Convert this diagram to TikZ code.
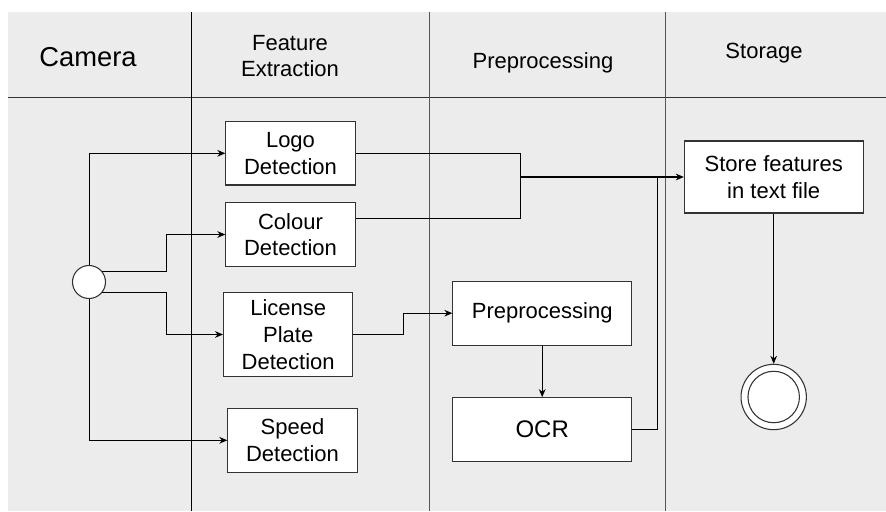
\documentclass[tikz,border=0pt]{standalone}
\usepackage{fontspec}
\setmainfont{Liberation Sans}
\usepackage{xcolor}
\usepackage{tikz}
\usetikzlibrary{calc}
\usetikzlibrary{arrows.meta}
\definecolor{lanegray}{HTML}{ECECEC}
\definecolor{edgegray}{HTML}{333333}
\definecolor{splitgray}{HTML}{555555}

\tikzset{
  taskbox/.style={draw=edgegray, fill=white, line width=0.8pt, align=center,
    inner sep=2pt, minimum width=97pt, minimum height=47.5pt,
    font=\fontsize{16.5}{20}\selectfont},
  lanehead/.style={align=center, font=\fontsize{16.5}{19.5}\selectfont},
  flow/.style={line width=0.75pt, -{Stealth[length=6pt,width=5pt]}},
  wire/.style={line width=0.75pt},
}

\begin{document}
\begin{tikzpicture}[x=0.75pt,y=-0.75pt]
                    \useasboundingbox (0,0) rectangle (886,511);

                    % Drawing swimlanes
                    \fill [lanegray] (8,12) rectangle (886,511);%
                    \draw [wire, edgegray] (8,97) -- (886,97);%
                    \draw [wire, black] (191,12) -- (191,511);%
                    \draw [wire, splitgray] (429,12) -- (429,511);%
                    \draw [wire, splitgray] (665,12) -- (665,511);%

                    \node [lanehead, font=\fontsize{20.5}{24}\selectfont] (hcamera) at (88,57) {Camera};%
                    \node [lanehead] (hfeature) at (290,56) {Feature\\Extraction};%
                    \node [lanehead] (hprep) at (543,63) {Preprocessing};%
                    \node [lanehead] (hstorage) at (764,53) {Storage};%

                    % Drawing activities
                    \node [circle, draw=edgegray, fill=white, line width=0.8pt, minimum size=24.75pt, inner sep=0pt] (start) at (89,282) {};%
                    \node [taskbox] (logo) at (290.5,153.3) {Logo\\Detection};%
                    \node [taskbox] (colour) at (290.5,234.5) {Colour\\Detection};%
                    \node [taskbox, minimum height=63pt] (plate) at (288.2,334.5) {License\\Plate\\Detection};%
                    \node [taskbox, minimum height=48pt] (speed) at (292.5,440.3) {Speed\\Detection};%
                    \node [taskbox, minimum width=134pt, minimum height=48pt] (prep) at (542.2,313.2) {Preprocessing};%
                    \node [taskbox, minimum width=134pt, minimum height=48pt, font=\fontsize{18}{20}\selectfont] (ocr) at (542.2,429.7) {OCR};%
                    \node [taskbox, minimum width=134pt, minimum height=54pt] (store) at (773.7,177) {Store features\\in text file};%
                    \node [circle, draw=edgegray, fill=white, line width=0.8pt, minimum size=49pt, inner sep=0pt] (stop) at (773.7,397) {};%
                    \draw [edgegray, line width=0.8pt] (stop) circle [radius=19.3pt];%

                    % Drawing connectors
                    \coordinate (merge) at (520,177);%
                    \coordinate (join) at (657,177);%
                    \draw [flow] (start.north) |- (logo.west);%
                    \draw [flow] (start.40) -- ++(64,0) |- (colour.west);%
                    \draw [flow] (start.-40) -- ++(64,0) |- (plate.west);%
                    \draw [flow] (start.south) |- (speed.west);%
                    \draw [wire] (logo.east) -| (merge);%
                    \draw [wire] ($(colour.east)+(0,-16)$) -| (merge);%
                    \draw [flow, line width=1.2pt] (merge) -- (store.west);%
                    \draw [flow] (plate.east) -- ++(49.7,0) |- (prep.west);%
                    \draw [flow] (prep.south) -- (ocr.north);%
                    \draw [wire] (ocr.east) -| (join);%
                    \draw [flow] (store.south) -- (stop.north);%

\end{tikzpicture}
\end{document}
